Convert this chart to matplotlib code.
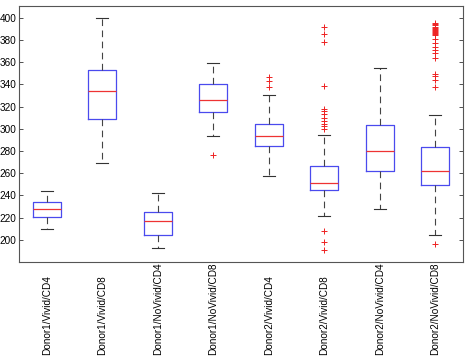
import matplotlib
matplotlib.use("Agg")
import matplotlib.pyplot as plt
import matplotlib.transforms as mtransforms

categories = ["Donor1/Vivid/CD4", "Donor1/Vivid/CD8", "Donor1/NoVivid/CD4", "Donor1/NoVivid/CD8",
              "Donor2/Vivid/CD4", "Donor2/Vivid/CD8", "Donor2/NoVivid/CD4", "Donor2/NoVivid/CD8"]
whisker_low = [210, 269.5, 193, 293, 257, 221.7, 228, 203.9]
q1 = [220.1, 309.2, 204.5, 315.5, 284.2, 245.1, 262.3, 249.6]
medians = [227.3, 333.8, 216.8, 326.3, 293, 251.4, 280, 262.3]
q3 = [234.3, 353, 225, 339.9, 304.3, 266.8, 303.8, 283.3]
whisker_high = [244.2, 400, 242, 359, 330.2, 293.9, 354.3, 312.8]
outliers = [
    [],
    [],
    [],
    [276.7],
    [346.7, 343.1, 337.7],
    [391.6, 385, 378.3, 338.4, 317.6, 315.8, 313.7, 310.1, 307, 304.1, 302.3, 300.2, 207.8, 198.2, 191],
    [],
    [395.5, 394.5, 393.5, 392, 391, 390, 389, 388, 387, 386, 385, 384, 380.5, 377.4, 373.8, 370.8,
     367.9, 363.4, 349.2, 347.4, 343.5, 337.7, 196.4],
]
yticks = [200, 220, 240, 260, 280, 300, 320, 340, 360, 380, 400]

plt.rcParams['font.family'] = ['Liberation Sans', 'DejaVu Sans']

fig = plt.figure(figsize=(4.65, 3.57), dpi=100)
ax = fig.add_axes([19/465, 95/357, 444/465, 256/357])

stats = []
for i in range(len(categories)):
    stats.append(dict(med=medians[i], q1=q1[i], q3=q3[i], whislo=whisker_low[i],
                      whishi=whisker_high[i], fliers=outliers[i], label=categories[i]))

positions = list(range(1, len(categories) + 1))
ax.bxp(stats, positions=positions, widths=0.5, capwidths=0.22,
       boxprops=dict(color='#4a4aee', linewidth=0.9),
       medianprops=dict(color='#ee3333', linewidth=0.9),
       whiskerprops=dict(color='#444444', linewidth=0.8, linestyle=(0, (6, 4))),
       capprops=dict(color='#333333', linewidth=0.8),
       flierprops=dict(marker='+', markeredgecolor='#ee2222', markersize=5, markeredgewidth=0.7,
                       linestyle='none'))

ax.set_xlim(0.5, 8.5)
ax.set_ylim(180, 410.5)
ax.set_yticks(yticks)
ax.set_yticklabels([str(t) for t in yticks], fontsize=7.2)
ax.set_xticks(positions)
ax.set_xticklabels([])
ax.tick_params(axis='x', length=0)
trans = mtransforms.blended_transform_factory(ax.transData, fig.transFigure)
for p, lab in zip(positions, categories):
    ax.text(p, 2/357, lab, rotation=90, fontsize=7.2, ha='center', va='bottom',
            transform=trans, clip_on=False)
ax.tick_params(axis='y', direction='in', length=3, width=0.6, right=True, pad=2, colors='#333333',
               labelcolor='black')
for s in ax.spines.values():
    s.set_linewidth(0.8)
    s.set_color('#555555')

fig.savefig("out.png", dpi=100)
